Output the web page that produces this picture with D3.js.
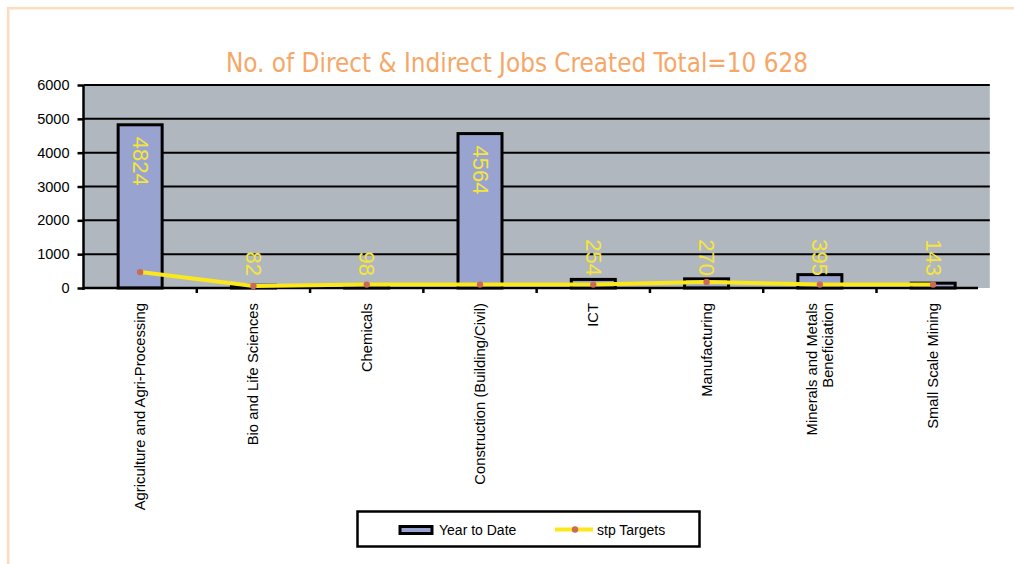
<!DOCTYPE html>
<html>
<head>
<meta charset="utf-8">
<script src="https://cdn.jsdelivr.net/npm/d3@7"></script>
<style>
html,body{margin:0;padding:0;background:#fff;}
svg{display:block;}
text{font-family:"Liberation Sans",Arial,sans-serif;}
</style>
</head>
<body>
<svg id="chart" width="1014" height="564"></svg>
<script>
const categories = ["Agriculture and Agri-Processing","Bio and Life Sciences","Chemicals","Construction (Building/Civil)","ICT","Manufacturing","Minerals and Metals\nBeneficiation","Small Scale Mining"];
const yearToDate = [4824, 82, 98, 4564, 254, 270, 395, 143];
const stpTargets = [470, 60, 100, 100, 100, 180, 100, 100];
const yTicks = [0, 1000, 2000, 3000, 4000, 5000, 6000];
const titleText = "No. of Direct & Indirect Jobs Created Total=10 628";
const seriesNames = ["Year to Date", "stp Targets"];

(function () {
const svg = d3.select("#chart");
const pLeft = 83.5, pRight = 989.8, pTop = 85, pBottom = 288;

const x = d3.scaleBand().domain(d3.range(categories.length)).range([pLeft, pRight]).paddingInner(0).paddingOuter(0);
const y = d3.scaleLinear().domain([0, 6000]).range([pBottom, pTop]);

// frame
svg.append("line").attr("x1", 7).attr("x2", 1014).attr("y1", 8.2).attr("y2", 8.2).attr("stroke", "#fddcbf").attr("stroke-width", 2.6);
svg.append("line").attr("x1", 8.2).attr("x2", 8.2).attr("y1", 7).attr("y2", 564).attr("stroke", "#fddcbf").attr("stroke-width", 2.6);

// title
svg.append("text").attr("x", 517).attr("y", 72).attr("text-anchor", "middle")
  .attr("fill", "#f6a767").style("font-family", "'DejaVu Sans Condensed','DejaVu Sans',sans-serif")
  .style("font-stretch", "condensed")
  .attr("font-size", 27).attr("textLength", 582).attr("lengthAdjust", "spacingAndGlyphs")
  .text(titleText);

// plot background
svg.append("rect").attr("x", pLeft).attr("y", pTop).attr("width", pRight - pLeft).attr("height", pBottom - pTop).attr("fill", "#b0b7bf");

// gridlines
svg.append("g").selectAll("line").data(yTicks.filter(d => d > 0)).join("line")
  .attr("x1", pLeft).attr("x2", pRight).attr("y1", d => y(d)).attr("y2", d => y(d))
  .attr("stroke", "#000").attr("stroke-width", 2);

// bars
svg.append("g").selectAll("rect").data(yearToDate).join("rect")
  .attr("x", (d, i) => x(i) + x.bandwidth() / 2 - 22)
  .attr("width", 44)
  .attr("y", d => y(d))
  .attr("height", d => y(0) - y(d))
  .attr("fill", "#99a3cf").attr("stroke", "#000").attr("stroke-width", 3);

// axes
const yAxis = svg.append("g").attr("transform", `translate(${pLeft},0)`)
  .call(d3.axisLeft(y).tickValues(yTicks).tickSize(6).tickFormat(d3.format("d")));
yAxis.select(".domain").attr("stroke-width", 2.5).attr("d", `M0,${pTop}V${pBottom + 2}`);
yAxis.selectAll(".tick line").attr("stroke-width", 2.5);
yAxis.selectAll(".tick text").attr("font-size", 14.5).attr("fill", "#000").attr("x", -14).style("font-family", "'Liberation Sans',Arial,sans-serif");

const xBoundaries = d3.range(1, categories.length).map(i => x(i));
const xg = svg.append("g");
xg.append("line").attr("x1", pLeft).attr("x2", 978).attr("y1", pBottom).attr("y2", pBottom).attr("stroke", "#000").attr("stroke-width", 2.5);
xg.selectAll("line.tk").data(xBoundaries).join("line").attr("class", "tk")
  .attr("x1", d => d).attr("x2", d => d).attr("y1", pBottom).attr("y2", pBottom + 5)
  .attr("stroke", "#000").attr("stroke-width", 2.5);

// category labels
categories.forEach((c, i) => {
  const lines = c.split("\n");
  const cx = x(i) + x.bandwidth() / 2;
  const t = svg.append("text")
    .attr("transform", `translate(${cx},303) rotate(-90)`)
    .attr("text-anchor", "end").attr("font-size", 14.8).attr("fill", "#000");
  lines.forEach((l, k) => {
    t.append("tspan").attr("x", 0).attr("y", (k - (lines.length - 1) / 2) * 15.5 + 5).text(l);
  });
});

// line series
const line = d3.line().x((d, i) => x(i) + x.bandwidth() / 2).y(d => y(d));
svg.append("path").datum(stpTargets).attr("d", line).attr("fill", "none").attr("stroke", "#fbe81c").attr("stroke-width", 4);
svg.append("g").selectAll("circle").data(stpTargets).join("circle")
  .attr("cx", (d, i) => x(i) + x.bandwidth() / 2).attr("cy", d => y(d)).attr("r", 3.2).attr("fill", "#c96b55");

// bar labels
const lbl = svg.append("g");
yearToDate.forEach((v, i) => {
  const cx = x(i) + x.bandwidth() / 2;
  const s = String(v);
  const len = s.length * 12.2;
  let ty, anchor;
  if (y(v) + 12 + len <= 276) { ty = y(v) + 12; anchor = "start"; }
  else { ty = 276; anchor = "end"; }
  lbl.append("text").attr("transform", `translate(${cx},${ty}) rotate(90)`)
    .attr("text-anchor", anchor).attr("dominant-baseline", "central")
    .attr("font-size", 22).attr("fill", "#f6e53a").text(s);
});

// legend
const lg = svg.append("g");
lg.append("rect").attr("x", 357.5).attr("y", 511.5).attr("width", 342).attr("height", 35).attr("fill", "#fff").attr("stroke", "#000").attr("stroke-width", 2.5);
lg.append("rect").attr("x", 400).attr("y", 526.5).attr("width", 32).attr("height", 7).attr("fill", "#99a3cf").attr("stroke", "#000").attr("stroke-width", 3);
lg.append("text").attr("x", 439).attr("y", 534.5).attr("font-size", 14).text(seriesNames[0]);
lg.append("line").attr("x1", 555).attr("x2", 593).attr("y1", 529.5).attr("y2", 529.5).attr("stroke", "#fbe81c").attr("stroke-width", 4);
lg.append("circle").attr("cx", 575).attr("cy", 529.5).attr("r", 3.2).attr("fill", "#c96b55");
lg.append("text").attr("x", 597).attr("y", 534.5).attr("font-size", 14).text(seriesNames[1]);
})();
</script>
</body>
</html>
